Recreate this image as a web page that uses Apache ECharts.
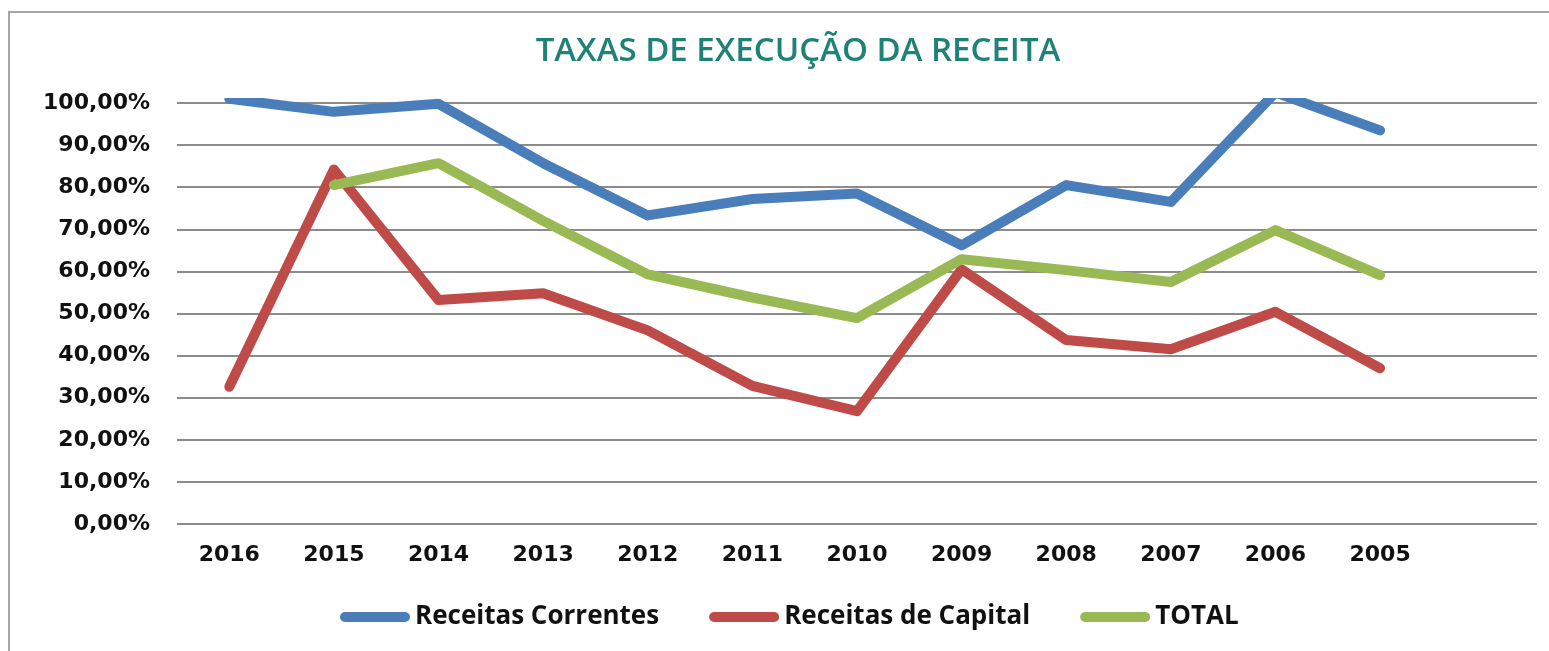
<!DOCTYPE html>
<html>
<head>
<meta charset="utf-8">
<script src="https://cdn.jsdelivr.net/npm/echarts@6/dist/echarts.min.js"></script>
<style>
html,body{margin:0;padding:0;background:#fff;}
#chart{width:1549px;height:651px;}
</style>
</head>
<body>
<div id="chart"></div>
<script>
var title = 'TAXAS DE EXECUÇÃO DA RECEITA';
var years = ['2016','2015','2014','2013','2012','2011','2010','2009','2008','2007','2006','2005'];
var receitasCorrentes = [101.0, 97.9, 99.8, 85.7, 73.3, 77.2, 78.5, 66.2, 80.5, 76.5, 102.5, 93.5];
var receitasCapital   = [32.6, 84.2, 53.2, 54.8, 46.0, 32.8, 26.8, 60.5, 43.7, 41.5, 50.4, 37.0];
var total             = [null, 80.5, 85.7, 72.0, 59.3, 53.8, 48.9, 62.9, 60.3, 57.5, 69.8, 59.1];
var seriesNames = ['Receitas Correntes','Receitas de Capital','TOTAL'];
var colors = ['#4A7EBB','#BE4B48','#98B954'];

var categories = years.concat(['']);
var chart = echarts.init(document.getElementById('chart'), null, {renderer:'canvas'});
function fmt(v){ return v.toFixed(2).replace('.', ',') + '%'; }
var dataSets = [receitasCorrentes, receitasCapital, total];
var series = dataSets.map(function(d, i){
  return {
    name: seriesNames[i], type: 'line', data: d, symbol: 'none', clip: true,
    lineStyle: {color: colors[i], width: 10, cap: 'round', join: 'round'},
    itemStyle: {color: colors[i]}, z: 3 + i
  };
});
chart.setOption({
  animation: false,
  backgroundColor: '#fff',
  graphic: [{
    type: 'rect', shape: {x: 9, y: 12, width: 1560, height: 660},
    style: {fill: 'none', stroke: '#A6A6A6', lineWidth: 2}, silent: true, z: -1
  }],
  title: {
    text: title, left: 793, top: 30, textAlign: 'center',
    textStyle: {fontFamily: 'Open Sans', fontWeight: 600, fontSize: 33, color: '#1E8276'}
  },
  legend: {
    top: 599, left: 335, itemWidth: 70, itemHeight: 11, itemGap: 50,
    icon: 'path://M5,0 H65 A5,5 0 0 1 65,10 H5 A5,5 0 0 1 5,0 Z',
    textStyle: {fontFamily: 'Open Sans', fontWeight: 'bold', fontSize: 26, color: '#111'},
    data: seriesNames
  },
  grid: {left: 177, right: 12, top: 103, bottom: 127, containLabel: false},
  xAxis: {
    type: 'category', data: categories, boundaryGap: true,
    axisLine: {show: false}, axisTick: {show: false},
    axisLabel: {interval: 0, margin: 20, fontFamily: 'DejaVu Sans', fontWeight: 'bold', fontSize: 22, color: '#111'}
  },
  yAxis: {
    type: 'value', min: 0, max: 100, interval: 10,
    axisLine: {show: false}, axisTick: {show: false},
    splitLine: {lineStyle: {color: '#8C8C8C', width: 2}},
    axisLabel: {margin: 27, formatter: fmt, fontFamily: 'DejaVu Sans', fontWeight: 'bold', fontSize: 22, color: '#111'}
  },
  series: series
});
</script>
</body>
</html>
